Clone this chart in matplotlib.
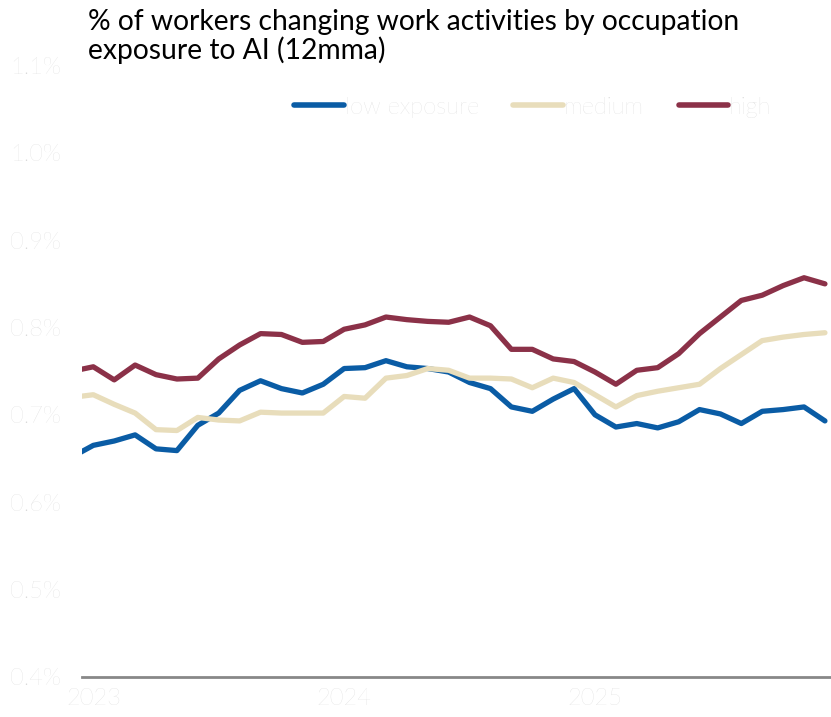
import numpy as np
import matplotlib
matplotlib.use('Agg')
import matplotlib.pyplot as plt

# Monthly 12mma share of workers changing work activities (%), Dec 2022 - Dec 2025
months = np.arange(-1, 36)  # 0 = Jan 2023
low = [0.652, 0.665, 0.670, 0.677, 0.661, 0.659, 0.688, 0.702, 0.728, 0.739,
       0.730, 0.725, 0.735, 0.753, 0.754, 0.762, 0.755, 0.753, 0.749, 0.737,
       0.730, 0.709, 0.704, 0.718, 0.730, 0.700, 0.686, 0.690, 0.685, 0.692,
       0.706, 0.701, 0.690, 0.704, 0.706, 0.709, 0.693]
medium = [0.720, 0.723, 0.712, 0.702, 0.683, 0.682, 0.697, 0.694, 0.693, 0.703,
          0.702, 0.702, 0.702, 0.721, 0.719, 0.742, 0.745, 0.753, 0.751, 0.742,
          0.742, 0.741, 0.731, 0.742, 0.737, 0.723, 0.709, 0.722, 0.727, 0.731,
          0.735, 0.753, 0.769, 0.785, 0.789, 0.792, 0.794]
high = [0.750, 0.755, 0.740, 0.757, 0.746, 0.741, 0.742, 0.764, 0.780, 0.793,
        0.792, 0.783, 0.784, 0.798, 0.803, 0.812, 0.809, 0.807, 0.806, 0.812,
        0.802, 0.775, 0.775, 0.764, 0.761, 0.749, 0.735, 0.751, 0.754, 0.770,
        0.793, 0.812, 0.831, 0.837, 0.848, 0.857, 0.850]

series = [('low exposure', low, '#0a5ca5'),
          ('medium', medium, '#e8ddbb'),
          ('high', high, '#8b3148')]

year_ticks = [0, 12, 24]
year_labels = ['2023', '2024', '2025']
y_ticks = [0.4, 0.5, 0.6, 0.7, 0.8, 0.9, 1.0, 1.1]

plt.rcParams['font.family'] = ['Lato', 'DejaVu Sans']
label_grey = '#d6d6d6'

fig = plt.figure(figsize=(8.31, 7.17), dpi=100)
ax = fig.add_axes([0.0987, 0.0562, 0.9013, 0.8523])

for name, vals, col in series:
    ax.plot(months, vals, color=col, lw=3.8, label=name,
            solid_capstyle='round', solid_joinstyle='round')

ax.set_xlim(-0.54, 35.29)
ax.set_ylim(0.4, 1.1)
ax.set_yticks(y_ticks)
ax.set_yticklabels(['%.1f%%' % v for v in y_ticks])
ax.set_xticks(year_ticks)
ax.set_xticklabels(year_labels)
ax.tick_params(axis='y', length=0, pad=15, labelsize=17, labelcolor=label_grey)
ax.tick_params(axis='x', length=0, pad=8, labelsize=17, labelcolor=label_grey)
for lab in ax.get_xticklabels() + ax.get_yticklabels():
    lab.set_fontweight('light')

for side in ['top', 'right', 'left']:
    ax.spines[side].set_visible(False)
ax.spines['bottom'].set_color('#888888')
ax.spines['bottom'].set_linewidth(2)

leg = ax.legend(loc='center', bbox_to_anchor=(0.602, 0.932), ncol=3,
                frameon=False, fontsize=17, handlelength=2.1,
                handletextpad=0.05, columnspacing=1.45)
for t in leg.get_texts():
    t.set_color(label_grey)
    t.set_fontweight('light')
for h in leg.get_lines():
    h.set_linewidth(4)

fig.text(0.106, 0.988, '% of workers changing work activities by occupation\n'
         'exposure to AI (12mma)', ha='left', va='top', fontsize=20.3,
         color='black', linespacing=1.08)

fig.savefig('out.png', dpi=100)
